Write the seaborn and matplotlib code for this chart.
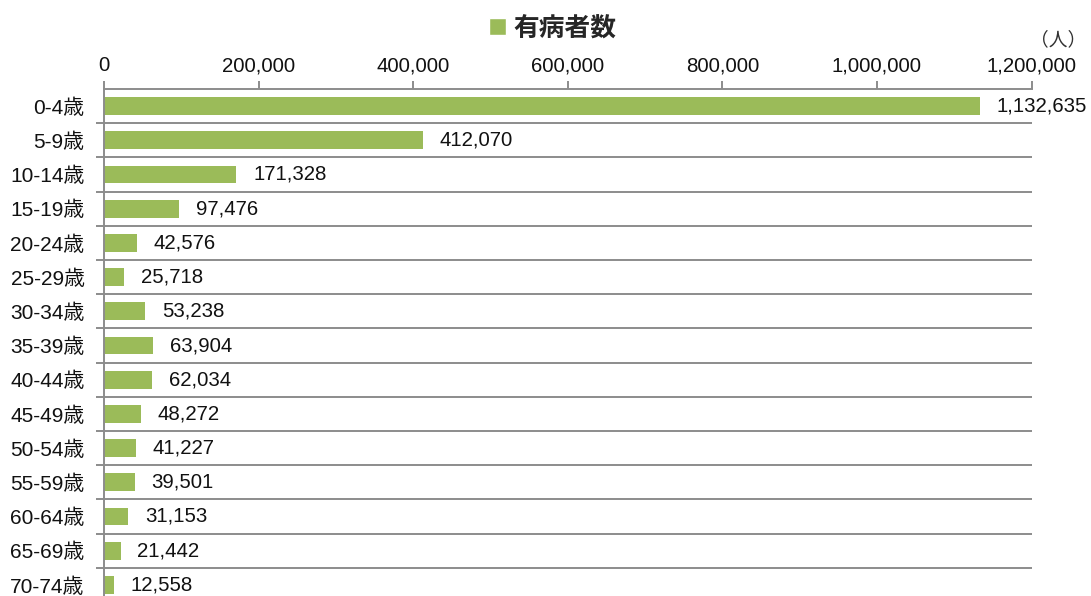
import numpy as np
import pandas as pd
import seaborn as sns
import matplotlib.pyplot as plt
from matplotlib.patches import Patch

ages = ["0-4歳", "5-9歳", "10-14歳", "15-19歳", "20-24歳", "25-29歳", "30-34歳",
        "35-39歳", "40-44歳", "45-49歳", "50-54歳", "55-59歳", "60-64歳", "65-69歳", "70-74歳"]
patients = [1132635, 412070, 171328, 97476, 42576, 25718, 53238,
            63904, 62034, 48272, 41227, 39501, 31153, 21442, 12558]
x_ticks = [0, 200000, 400000, 600000, 800000, 1000000, 1200000]

green = "#9BBB59"
gray = "#8C8C8C"

sns.set_theme(style="white")
plt.rcParams["font.family"] = ["Liberation Sans", "Noto Sans CJK JP"]

df = pd.DataFrame({"age": ages, "patients": patients})

fig = plt.figure(figsize=(10.91, 5.96), dpi=100)
ax = fig.add_axes([104 / 1091, -6 / 596, 927.6 / 1091, 513 / 596])

sns.barplot(data=df, x="patients", y="age", orient="h", color=green,
            saturation=1, width=0.52, ax=ax)
for b in ax.patches:
    b.set_edgecolor("none")

ax.bar_label(ax.containers[0], labels=[f"{v:,}" for v in patients],
             padding=12, fontsize=14.7, color="#111111")

ax.set_xlim(0, 1200000)
ax.set_ylim(len(ages) - 0.5, -0.5)
ax.set_xticks(x_ticks)
ax.set_xticklabels([f"{v:,}" for v in x_ticks])
ax.xaxis.tick_top()
ax.set_xlabel("")
ax.set_ylabel("")

ax.set_yticks(np.arange(len(ages)) + 0.5, minor=True)
ax.grid(False)
ax.grid(which="minor", axis="y", color=gray, lw=1.4)
ax.tick_params(axis="x", which="major", top=True, bottom=False, length=6, width=1.4,
               color=gray, labelsize=14.7, pad=4, labelcolor="#111111")
ax.tick_params(axis="y", which="major", length=0, labelsize=15, pad=14,
               labelcolor="#111111")
ax.tick_params(axis="y", which="minor", left=True, length=6, width=1.4, color=gray)

for side in ["bottom", "right"]:
    ax.spines[side].set_visible(False)
for side in ["top", "left"]:
    ax.spines[side].set_color(gray)
    ax.spines[side].set_linewidth(1.4)

leg = fig.legend(handles=[Patch(facecolor=green, label="有病者数")],
                 loc="center", bbox_to_anchor=(553 / 1091, 1 - 28 / 596),
                 frameon=False, handlelength=0.65, handleheight=0.65,
                 handletextpad=0.3, prop={"family": ["Noto Sans CJK JP"],
                                           "size": 18.5, "weight": "bold"})

fig.text(1086 / 1091, 1 - 40 / 596, "（人）", ha="right", va="center",
         fontsize=13.5, family=["Noto Sans CJK JP"], color="#333333")

fig.savefig("out.png", dpi=100)
